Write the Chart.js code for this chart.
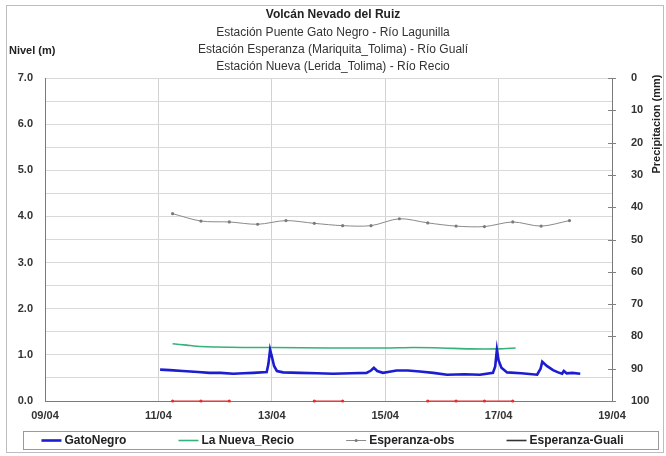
<!DOCTYPE html>
<html>
<head>
<meta charset="utf-8">
<script src="https://cdn.jsdelivr.net/npm/chart.js@4.4.0/dist/chart.umd.min.js"></script>
<style>
html,body{margin:0;padding:0;background:#fff;}
#wrap{position:relative;width:666px;height:456px;}
</style>
</head>
<body>
<div id="wrap"><canvas id="c" width="666" height="456"></canvas></div>
<script>
// ---- data (days of April, fractional) ----
const titleMain = "Volcán Nevado del Ruiz";
const subTitles = [
  "Estación Puente Gato Negro - Río Lagunilla",
  "Estación Esperanza (Mariquita_Tolima) - Río Gualí",
  "Estación Nueva (Lerida_Tolima) - Río Recio"
];
const leftAxisTitle = "Nivel (m)";
const rightAxisTitle = "Precipitacion (mm)";

const gatoTimes  = [11.03,11.2,11.43,11.7,11.9,12.1,12.32,12.5,12.67,12.91,12.94,12.97,13.0,13.04,13.09,13.2,13.5,13.8,14.08,14.4,14.67,14.75,14.8,14.86,14.96,15.1,15.2,15.4,15.61,15.85,16.09,16.4,16.67,16.9,16.94,16.97,17.0,17.05,17.15,17.4,17.68,17.74,17.77,17.85,17.96,18.05,18.12,18.15,18.2,18.3,18.44];
const gatoValues = [0.68,0.67,0.65,0.63,0.61,0.61,0.59,0.60,0.61,0.63,0.80,1.11,0.97,0.76,0.65,0.62,0.61,0.60,0.59,0.60,0.61,0.66,0.72,0.65,0.61,0.64,0.66,0.66,0.64,0.61,0.57,0.58,0.57,0.61,0.75,1.11,0.88,0.72,0.62,0.60,0.57,0.70,0.85,0.76,0.67,0.62,0.59,0.65,0.60,0.61,0.59];

const recioTimes  = [11.25,11.5,11.75,12.0,12.5,13.0,14.0,15.0,15.5,16.0,16.5,17.0,17.3];
const recioValues = [1.24,1.21,1.18,1.17,1.16,1.16,1.15,1.15,1.16,1.15,1.13,1.13,1.15];

const obsTimes  = [11.25,11.75,12.25,12.75,13.25,13.75,14.25,14.75,15.25,15.75,16.25,16.75,17.25,17.75,18.25];
const obsValues = [4.06,3.90,3.88,3.83,3.91,3.85,3.80,3.80,3.95,3.86,3.79,3.78,3.88,3.79,3.91];

const gualiTimes  = [];
const gualiValues = [];

const rainTimes  = [11.25,11.75,12.25,12.75,13.25,13.75,14.25,14.75,15.25,15.75,16.25,16.75,17.25];
const rainValues = [0,0,0,null,null,0,0,null,null,0,0,0,0];

const xTicks = [9,11,13,15,17,19];

function pts(t, v){ return t.map((x,i)=>({x:x, y:v[i]})); }

const FONT = "'Liberation Sans', Arial, sans-serif";

const decorPlugin = {
  id:'decor',
  beforeDraw(chart){
    const ctx = chart.ctx;
    ctx.save();
    ctx.fillStyle='#fff';
    ctx.fillRect(0,0,chart.width,chart.height);
    ctx.strokeStyle='#bdbdbd';
    ctx.lineWidth=1;
    ctx.strokeRect(6.5,5.5,657,447);
    ctx.restore();
  },
  afterDraw(chart){
    const ctx = chart.ctx;
    ctx.save();
    // titles
    ctx.textAlign='center';
    ctx.textBaseline='middle';
    ctx.fillStyle='#222';
    ctx.font="bold 12px "+FONT;
    ctx.fillText(titleMain, 333, 15);
    ctx.font="12px "+FONT;
    ctx.fillStyle='#333';
    const ys=[33,50,67];
    subTitles.forEach((s,i)=>ctx.fillText(s,333,ys[i]));
    // left axis title
    ctx.textAlign='left';
    ctx.font="bold 11px "+FONT;
    ctx.fillStyle='#222';
    ctx.fillText(leftAxisTitle, 9, 51);
    // right axis title rotated
    ctx.save();
    ctx.translate(657,124);
    ctx.rotate(-Math.PI/2);
    ctx.textAlign='center';
    ctx.fillText(rightAxisTitle,0,0);
    ctx.restore();
    // right axis tick marks crossing the axis
    const y1 = chart.scales.y1;
    ctx.strokeStyle='#808080';
    ctx.lineWidth=1;
    y1.ticks.forEach(t=>{
      const py = Math.round(y1.getPixelForValue(t.value))+0.5;
      ctx.beginPath(); ctx.moveTo(chart.chartArea.right-4,py); ctx.lineTo(chart.chartArea.right+4,py); ctx.stroke();
    });
    // legend
    const boxL=23, boxR=658, boxT=431, boxB=449;
    ctx.strokeStyle='#9a9a9a';
    ctx.strokeRect(boxL+0.5,boxT+0.5,boxR-boxL,boxB-boxT);
    ctx.font="bold 12px "+FONT;
    const items = chart.data.datasets.filter(d=>!d.hideInLegend);
    const sample=20, gap=3, G=52;
    const widths = items.map(d=>sample+gap+ctx.measureText(d.label).width);
    const total = widths.reduce((a,b)=>a+b,0)+G*(items.length-1);
    let x = (boxL+boxR)/2 - total/2 - 8;
    const cy = (boxT+boxB)/2+0.5;
    items.forEach((d,i)=>{
      ctx.strokeStyle=d.borderColor;
      ctx.lineWidth=d.legendLineWidth||d.borderWidth;
      ctx.beginPath(); ctx.moveTo(x,cy); ctx.lineTo(x+sample,cy); ctx.stroke();
      if(d.pointRadius>0){
        ctx.fillStyle=d.pointBackgroundColor||d.borderColor;
        ctx.beginPath(); ctx.arc(x+sample/2,cy,1.5,0,Math.PI*2); ctx.fill();
      }
      ctx.fillStyle='#222';
      ctx.textAlign='left';
      ctx.fillText(d.label, x+sample+gap, cy);
      x += widths[i]+G;
    });
    ctx.restore();
  }
};

new Chart(document.getElementById('c'), {
  type:'line',
  data:{
    datasets:[
      {label:'GatoNegro', data:pts(gatoTimes,gatoValues), borderColor:'#1c1cd0', borderWidth:2.6, pointRadius:0, tension:0, yAxisID:'y', order:1},
      {label:'La Nueva_Recio', data:pts(recioTimes,recioValues), borderColor:'#35b27a', borderWidth:1.6, pointRadius:0, tension:0.2, yAxisID:'y', order:2},
      {label:'Esperanza-obs', data:pts(obsTimes,obsValues), borderColor:'#8a8a8a', borderWidth:1, pointRadius:1.6, pointBackgroundColor:'#7a7a7a', pointBorderWidth:0, tension:0.3, yAxisID:'y', order:3},
      {label:'Esperanza-Guali', data:pts(gualiTimes,gualiValues), borderColor:'#333', borderWidth:1.6, pointRadius:0, yAxisID:'y', order:4},
      {label:'Lluvia', data:pts(rainTimes,rainValues), borderColor:'#e03030', borderWidth:1.2, pointRadius:1.6, pointBackgroundColor:'#e03030', pointBorderWidth:0, spanGaps:false, yAxisID:'y', clip:false, hideInLegend:true, order:0}
    ]
  },
  options:{
    responsive:false,
    animation:false,
    events:[],
    layout:{padding:{top:78,bottom:33,left:0,right:0}},
    plugins:{legend:{display:false}, title:{display:false}, tooltip:{enabled:false}},
    scales:{
      x:{
        type:'linear', min:9, max:19,
        afterBuildTicks(s){ s.ticks = xTicks.map(v=>({value:v})); },
        ticks:{ callback:v=>String(v).padStart(2,'0')+'/04', font:{family:FONT,size:11,weight:'bold'}, color:'#333', padding:8, maxRotation:0, autoSkip:false },
        grid:{ color:(c)=> (c.tick && (c.tick.value===9||c.tick.value===19))?'rgba(0,0,0,0)':'#d2d2d2', drawTicks:false },
        border:{ color:'#7a7a7a', width:1 },
        afterFit(s){ s.height=22; }
      },
      y:{
        position:'left', min:0, max:7,
        ticks:{ stepSize:0.5, callback:v=> (Math.abs(v-Math.round(v))<1e-9)? v.toFixed(1):'', font:{family:FONT,size:11,weight:'bold'}, color:'#333', padding:12, autoSkip:false },
        grid:{ color:'#d9d9d9', drawTicks:false },
        border:{ color:'#7a7a7a', width:1 },
        afterFit(s){ s.width=45; }
      },
      y1:{
        position:'right', reverse:true, min:0, max:100,
        ticks:{ stepSize:10, font:{family:FONT,size:11,weight:'bold'}, color:'#333', padding:11 },
        grid:{ display:false, drawOnChartArea:false },
        border:{ display:true, color:'#7a7a7a', width:1 },
        afterFit(s){ s.width=54; }
      }
    }
  },
  plugins:[decorPlugin]
});
</script>
</body>
</html>
